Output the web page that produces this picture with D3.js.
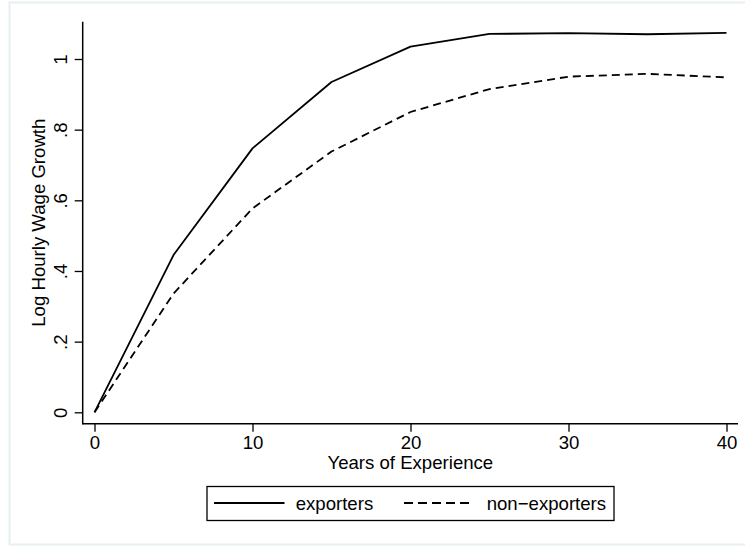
<!DOCTYPE html>
<html>
<head>
<meta charset="utf-8">
<script src="https://cdn.jsdelivr.net/npm/d3@7"></script>
<style>
html,body{margin:0;padding:0;background:#fff;}
svg{display:block;}
text{font-family:"Liberation Sans",Arial,Helvetica,sans-serif;fill:#000;}
</style>
</head>
<body>
<svg id="chart" width="745" height="548"></svg>
<script>
const years = [0, 5, 10, 15, 20, 25, 30, 35, 40];
const exporters = [0, 0.445, 0.747, 0.935, 1.035, 1.071, 1.073, 1.070, 1.074];
const nonExporters = [0, 0.336, 0.577, 0.738, 0.850, 0.915, 0.950, 0.958, 0.948];
const xTicks = [0, 10, 20, 30, 40];
const yTicks = [0, 0.2, 0.4, 0.6, 0.8, 1];
const yTickLabels = ["0", ".2", ".4", ".6", ".8", "1"];
const seriesNames = ["exporters", "non\u2212exporters"];

const svg = d3.select("#chart");
const FS = 18.6;

// outer graph region border
svg.append("rect").attr("x", 9.5).attr("y", 2.5).attr("width", 745).attr("height", 542)
  .attr("fill", "none").attr("stroke", "#e6eff1").attr("stroke-width", 2);

const x = d3.scaleLinear().domain([0, 40]).range([94.5, 726.5]);
const y = d3.scaleLinear().domain([0, 1]).range([412.3, 59]);

const plotLeft = 82.7, plotRight = 738, plotTop = 21.7, plotBottom = 423.7;

// axes lines
svg.append("line").attr("x1", plotLeft).attr("x2", plotLeft).attr("y1", plotTop).attr("y2", plotBottom + 0.75)
  .attr("stroke", "#000").attr("stroke-width", 1.5);
svg.append("line").attr("x1", plotLeft).attr("x2", plotRight).attr("y1", plotBottom).attr("y2", plotBottom)
  .attr("stroke", "#000").attr("stroke-width", 1.5);

// x axis ticks
const xAxis = d3.axisBottom(x).tickValues(xTicks).tickSize(8).tickPadding(4).tickFormat(d3.format("d"));
const gx = svg.append("g").attr("transform", `translate(0,${plotBottom})`).call(xAxis);
gx.select(".domain").remove();
gx.selectAll(".tick line").attr("stroke", "#000").attr("stroke-width", 1.3);
gx.selectAll(".tick text").attr("font-size", FS).attr("font-family", "Liberation Sans, Arial, sans-serif")
  .attr("fill", "#000").attr("dy", null).attr("y", 25.6);

// y axis ticks
const yAxis = d3.axisLeft(y).tickValues(yTicks).tickSize(8).tickFormat((d, i) => yTickLabels[i]);
const gy = svg.append("g").attr("transform", `translate(${plotLeft},0)`).call(yAxis);
gy.select(".domain").remove();
gy.selectAll(".tick line").attr("stroke", "#000").attr("stroke-width", 1.3);
gy.selectAll(".tick text").attr("font-size", FS).attr("font-family", "Liberation Sans, Arial, sans-serif")
  .attr("fill", "#000").attr("x", null).attr("dy", null)
  .attr("text-anchor", "middle")
  .attr("transform", "translate(-16.2,0) rotate(-90)");

// axis titles
svg.append("text").attr("x", (plotLeft + plotRight) / 2).attr("y", 469)
  .attr("text-anchor", "middle").attr("font-size", FS).text("Years of Experience");
svg.append("text").attr("transform", `translate(45,${(plotTop + plotBottom) / 2}) rotate(-90)`)
  .attr("text-anchor", "middle").attr("font-size", FS).text("Log Hourly Wage Growth");

// lines
const line = d3.line().x((d, i) => x(years[i])).y(d => y(d));
svg.append("path").datum(exporters).attr("d", line).attr("fill", "none")
  .attr("stroke", "#000").attr("stroke-width", 1.8).attr("stroke-linejoin", "round");
svg.append("path").datum(nonExporters).attr("d", line).attr("fill", "none")
  .attr("stroke", "#000").attr("stroke-width", 1.8).attr("stroke-dasharray", "8,5");

// legend
const lg = svg.append("g");
lg.append("rect").attr("x", 207).attr("y", 486.5).attr("width", 407).attr("height", 34)
  .attr("fill", "#fff").attr("stroke", "#000").attr("stroke-width", 1.3);
lg.append("line").attr("x1", 214).attr("x2", 284.5).attr("y1", 503).attr("y2", 503)
  .attr("stroke", "#000").attr("stroke-width", 1.8);
lg.append("text").attr("x", 295.7).attr("y", 510).attr("font-size", FS).text(seriesNames[0]);
lg.append("line").attr("x1", 404).attr("x2", 469).attr("y1", 503).attr("y2", 503)
  .attr("stroke", "#000").attr("stroke-width", 1.8).attr("stroke-dasharray", "9,5");
lg.append("text").attr("x", 486.7).attr("y", 510).attr("font-size", FS).text(seriesNames[1]);
</script>
</body>
</html>
